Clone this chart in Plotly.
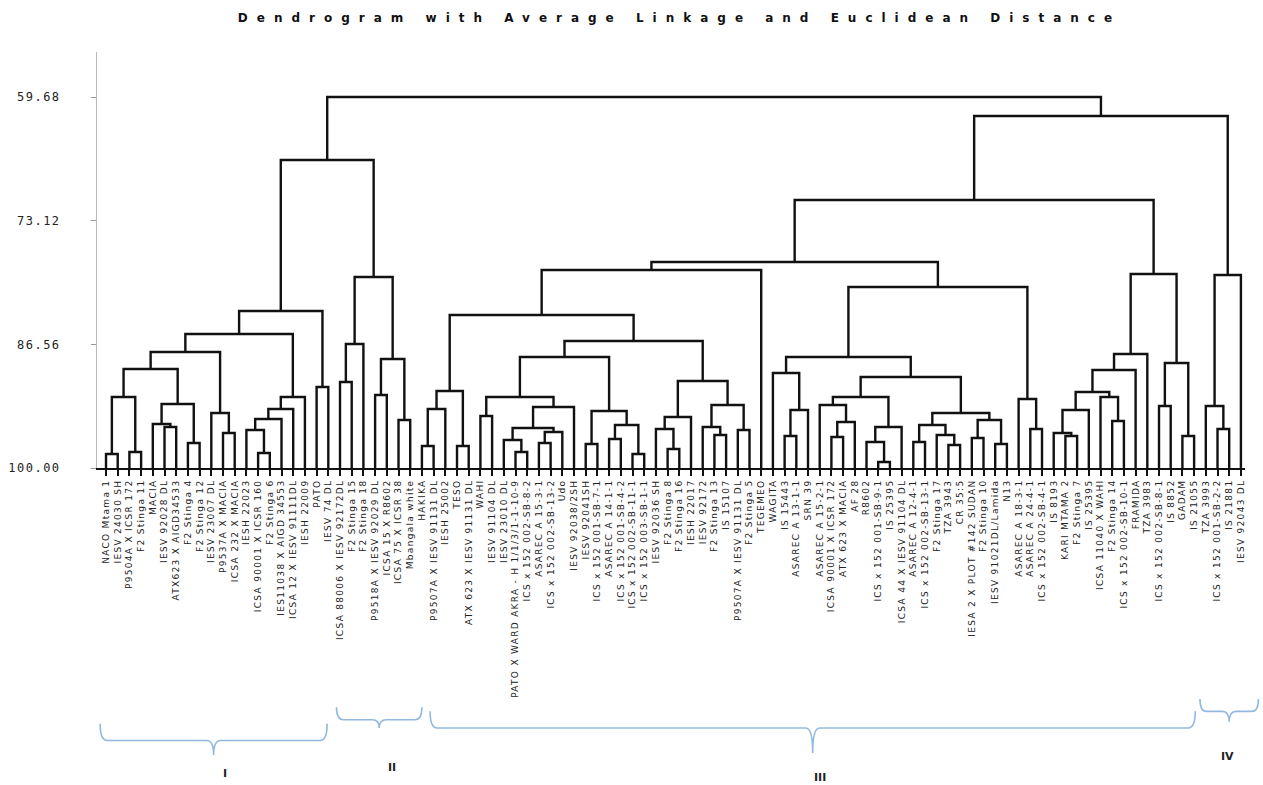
import plotly.graph_objects as go

# ---------------- data ----------------
leaf_labels = [
    "NACO Mtama 1", "IESV 24030 SH", "P9504A X ICSR 172", "F2 Stinga 11", "MACIA",
    "IESV 92028 DL", "ATX623 X AIGD34533", "F2 Stinga 4", "F2 Stinga 12", "IESV 23007 DL",
    "P9537A X MACIA", "ICSA 232 X MACIA", "IESH 22023", "ICSA 90001 X ICSR 160", "F2 Stinga 6",
    "IES11038 X AIGD 34553", "ICSA 12 X IESV 91111DL", "IESH 22009", "PATO", "IESV 74 DL",
    "ICSA 88006 X IESV 92172DL", "F2 Stinga 15", "F2 Stinga 18", "P9518A X IESV 92029 DL",
    "ICSA 15 X R8602", "ICSA 75 X ICSR 38", "Mbangala white", "HAKIKA",
    "P9507A X IESV 91131 DL", "IESH 25002", "TESO", "ATX 623 X IESV 91131 DL", "WAHI",
    "IESV 91104 DL", "IESV 23010 DL", "PATO X WARD AKRA - H 1/1/3/1-1-10-9",
    "ICS x 152 002-SB-8-2", "ASAREC A 15-3-1", "ICS x 152 002-SB-13-2", "Udo",
    "IESV 92038/2SH", "IESV 92041SH", "ICS x 152 001-SB-7-1", "ASAREC A 14-1-1",
    "ICS x 152 001-SB-4-2", "ICS x 152 002-SB-11-1", "ICS x 152 003-SB-1-1", "IESV 92036 SH",
    "F2 Stinga 8", "F2 Stinga 16", "IESH 22017", "IESV 92172", "F2 Stinga 13", "IS 15107",
    "P9507A X IESV 91131 DL", "F2 Stinga 5", "TEGEMEO", "WAGITA", "IS 15443",
    "ASAREC A 13-1-1", "SRN 39", "ASAREC A 15-2-1", "ICSA 90001 X ICSR 172",
    "ATX 623 X MACIA", "AF 28", "R8602", "ICS x 152 001-SB-9-1", "IS 25395",
    "ICSA 44 X IESV 91104 DL", "ASAREC A 12-4-1", "ICS x 152 002-SB-13-1", "F2 Stinga 17",
    "TZA 3943", "CR 35:5", "IESA 2 X PLOT #142 SUDAN", "F2 Stinga 10",
    "IESV 91021DL/Lamida", "N13", "ASAREC A 18-3-1", "ASAREC A 24-4-1",
    "ICS x 152 002-SB-4-1", "IS 8193", "KARI MTAMA 2", "F2 Stinga 7", "IS 25395",
    "ICSA 11040 X WAHI", "F2 Stinga 14", "ICS x 152 002-SB-10-1", "FRAMIDA", "TZA 3983",
    "ICS x 152 002-SB-8-1", "IS 8852", "GADAM", "IS 21055", "TZA 3993",
    "ICS x 152 001-SB-2-2", "IS 21881", "IESV 92043 DL",
]

# merges: ids 0..97 are leaves, merge k gets id 98+k (children listed left, right)
merge_left = [
    0, 2, 98, 5, 4, 7, 102, 100, 10, 9, 105, 13, 12, 110, 111, 112, 108, 18, 114,
    20, 117, 23, 25, 119, 118, 116,
    27, 124, 30, 125, 32, 35, 34, 37, 131, 130, 133, 128, 41, 43, 45, 137, 136, 135,
    48, 47, 143, 52, 51, 54, 146, 144, 141, 127, 151,
    58, 153, 57, 62, 156, 61, 66, 65, 160, 158, 69, 72, 71, 163, 74, 76, 167, 166,
    162, 155, 79, 78, 172, 152,
    82, 81, 178, 86, 85, 179, 182, 183, 90, 92, 185, 184, 176,
    95, 94, 191, 189, 123,
]
merge_right = [
    1, 3, 99, 6, 101, 8, 103, 104, 11, 106, 107, 14, 109, 15, 16, 17, 113, 19, 115,
    21, 22, 24, 26, 120, 121, 122,
    28, 29, 31, 126, 33, 36, 129, 38, 39, 132, 40, 134, 42, 44, 46, 138, 139, 140,
    49, 142, 50, 53, 145, 55, 147, 148, 149, 150, 56,
    59, 60, 154, 63, 64, 157, 67, 159, 68, 161, 70, 73, 164, 165, 75, 77, 168, 169,
    170, 171, 80, 173, 174, 175,
    83, 177, 84, 87, 180, 181, 88, 89, 91, 93, 186, 187, 188,
    96, 190, 97, 192, 193,
]
merge_height = [
    98.48, 98.26, 92.28, 95.54, 95.22, 97.28, 93.04, 89.24, 96.20, 94.02, 87.39, 98.37,
    95.87, 94.67, 93.59, 92.28, 85.44, 91.20, 82.94,
    90.65, 86.52, 92.07, 94.78, 88.15, 79.24, 66.53,
    97.61, 93.59, 97.61, 91.63, 94.35, 98.26, 96.96, 97.28, 96.09, 95.65, 93.37, 92.28,
    97.39, 96.85, 98.48, 95.33, 93.81, 87.94, 97.93, 95.76, 94.46, 96.41, 95.54, 95.87,
    93.15, 90.54, 86.20, 83.37, 78.48,
    96.52, 93.70, 89.68, 96.63, 95.00, 93.15, 99.35, 97.17, 95.54, 92.28, 97.17, 97.50,
    96.41, 95.33, 96.74, 97.39, 94.78, 94.02, 90.11, 87.94, 95.76, 92.50, 80.33, 77.61,
    96.52, 96.20, 93.70, 94.89, 92.28, 91.74, 89.35, 87.61, 93.26, 96.52, 88.59, 78.92,
    70.87,
    95.76, 93.26, 79.03, 61.74, 59.68,
]
leaf_base = 100.00
y_tick_values = [59.68, 73.12, 86.56, 100.00]
y_tick_labels = ["59.68", "73.12", "86.56", "100.00"]

cluster_names = ["I", "II", "III", "IV"]
cluster_first_leaf = [0, 20, 27, 94]
cluster_last_leaf = [19, 26, 93, 97]

title_text = "Dendrogram with Average Linkage and Euclidean Distance"

# ---------------- geometry via the tree ----------------
n_leaves = len(leaf_labels)
node_x = {i: float(i) for i in range(n_leaves)}
node_h = {i: leaf_base for i in range(n_leaves)}
xs, ys = [], []
for k, (a, b, h) in enumerate(zip(merge_left, merge_right, merge_height)):
    nid = n_leaves + k
    xs += [node_x[a], node_x[a], node_x[b], node_x[b], None]
    ys += [node_h[a], h, h, node_h[b], None]
    node_x[nid] = (node_x[a] + node_x[b]) / 2
    node_h[nid] = h

fig = go.Figure()
fig.add_trace(go.Scatter(x=xs, y=ys, mode="lines",
                         line=dict(color="#111111", width=2.4),
                         hoverinfo="skip", showlegend=False))

# ---------------- braces for cluster groups ----------------
x_range = [-0.77, 97.35]


def to_paper(u):
    return (u - x_range[0]) / (x_range[1] - x_range[0])


brace_color = "#93b9e0"
pad_left = [-0.5, -0.3, 0.7, -0.5]
pad_right = [-0.1, 1.0, 0.1, 1.5]
brace_end = [-0.615, -0.575, -0.585, -0.555]
brace_bar = [-0.655, -0.605, -0.625, -0.585]
brace_tip = [-0.690, -0.625, -0.685, -0.610]
label_y = [-0.755, -0.740, -0.764, -0.715]
for i, name in enumerate(cluster_names):
    x0 = to_paper(cluster_first_leaf[i] + pad_left[i])
    x1 = to_paper(cluster_last_leaf[i] + pad_right[i])
    xm = (x0 + x1) / 2
    d = 0.006
    ye, yb, yt = brace_end[i], brace_bar[i], brace_tip[i]
    path = (f"M {x0},{ye} Q {x0},{yb} {x0+d},{yb} L {xm-d},{yb} "
            f"Q {xm},{yb} {xm},{yt} Q {xm},{yb} {xm+d},{yb} "
            f"L {x1-d},{yb} Q {x1},{yb} {x1},{ye}")
    fig.add_shape(type="path", path=path, xref="paper", yref="paper",
                  line=dict(color=brace_color, width=1.6))
    fig.add_annotation(x=xm + 0.006, y=label_y[i], xref="paper", yref="paper",
                       text=f"<b>{name}</b>", showarrow=False,
                       font=dict(family="DejaVu Sans", size=11, color="#222222"))

# ---------------- layout ----------------
ls = "letter-spacing:1.3px"
fig.update_layout(
    width=1263, height=785,
    margin=dict(l=97, r=18, t=52, b=317),
    paper_bgcolor="white", plot_bgcolor="white",
    title=dict(text=f"<span style='letter-spacing:9px'><b>{title_text}</b></span>",
               x=0.538, xanchor="center", y=0.977, yanchor="middle",
               font=dict(family="DejaVu Sans", size=12, color="#111111")),
    xaxis=dict(range=x_range, tickmode="array", automargin=False,
               tickvals=list(range(n_leaves)),
               ticktext=[f"<span style='{ls}'>{t}</span>" for t in leaf_labels],
               tickangle=-90, ticks="outside", ticklen=6, tickwidth=2, tickcolor="#111111",
               showline=True, linecolor="#111111", linewidth=2,
               showgrid=False, zeroline=False,
               tickfont=dict(family="DejaVu Sans", size=9, color="#222222")),
    yaxis=dict(range=[100, 54.79], tickmode="array", tickvals=y_tick_values,
               automargin=False,
               ticktext=[f"<span style='letter-spacing:1.5px'>{t}</span>" for t in y_tick_labels],
               ticks="outside", ticklen=5, tickwidth=1, tickcolor="#999999",
               ticklabelstandoff=28,
               showline=True, linecolor="#bbbbbb", linewidth=1,
               showgrid=False, zeroline=False,
               tickfont=dict(family="DejaVu Sans Mono", size=12, color="#222222")),
)

fig.write_html("out.html")
